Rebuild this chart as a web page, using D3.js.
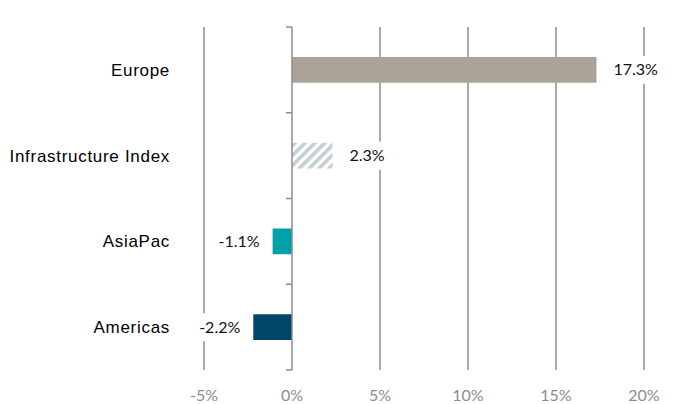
<!DOCTYPE html>
<html><head><meta charset="utf-8">
<script src="https://cdn.jsdelivr.net/npm/d3@7"></script>
<style>body{margin:0;background:#fff}</style>
</head><body>
<svg id="c" width="673" height="404"></svg>
<script>
const categories = ["Europe", "Infrastructure Index", "AsiaPac", "Americas"];
const values = [17.3, 2.3, -1.1, -2.2];
const labels = ["17.3%", "2.3%", "-1.1%", "-2.2%"];
const ticks = [-5, 0, 5, 10, 15, 20];
const tickLabels = ["-5%", "0%", "5%", "10%", "15%", "20%"];
const colors = ["#aca398", "url(#hatch)", "#00a0a7", "#004668"];

const svg = d3.select("#c");
const defs = svg.append("defs");
const pat = defs.append("pattern").attr("id", "hatch").attr("patternUnits", "userSpaceOnUse")
  .attr("width", 7).attr("height", 7).attr("patternTransform", "rotate(45)");
pat.append("rect").attr("width", 7).attr("height", 7).attr("fill", "#ffffff");
pat.append("rect").attr("width", 3.5).attr("height", 7).attr("fill", "#c3ced1");

const x = d3.scaleLinear().domain([-5, 20]).range([204, 644]);
const y = d3.scaleBand().domain(categories).range([27, 370]).paddingInner(0.7).paddingOuter(0.35);
const yb = d3.scaleLinear().domain([0, 4]).range([27, 370]);

// gridlines
svg.append("g").selectAll("line").data(ticks.filter(t => t !== 0)).join("line")
  .attr("x1", d => x(d)).attr("x2", d => x(d)).attr("y1", 27).attr("y2", 370)
  .attr("stroke", "#8c8c8c").attr("stroke-width", 1.5);

// bars
svg.append("g").selectAll("rect").data(values).join("rect")
  .attr("x", d => x(Math.min(0, d))).attr("width", d => Math.abs(x(d) - x(0)))
  .attr("y", (d, i) => y(categories[i])).attr("height", y.bandwidth())
  .attr("fill", (d, i) => colors[i]);

// zero axis
const ax = svg.append("g");
ax.append("line").attr("x1", x(0)).attr("x2", x(0)).attr("y1", 27).attr("y2", 370)
  .attr("stroke", "#8c8c8c").attr("stroke-width", 1.5);
ax.selectAll("line.t").data(d3.range(5)).join("line").attr("class", "t")
  .attr("x1", x(0) - 6).attr("x2", x(0)).attr("y1", d => yb(d)).attr("y2", d => yb(d))
  .attr("stroke", "#8c8c8c").attr("stroke-width", 1.5);

// category labels
svg.append("g").selectAll("text").data(categories).join("text")
  .attr("x", 170).attr("y", d => y(d) + y.bandwidth() / 2).attr("dy", "0.35em")
  .attr("text-anchor", "end").attr("font-family", "Liberation Sans, Arial, sans-serif")
  .attr("font-size", 17).attr("letter-spacing", 0.7).attr("fill", "#000").text(d => d);

// value labels with white background
const vl = svg.append("g").selectAll("g").data(values).join("g")
  .attr("transform", (d, i) => `translate(${d >= 0 ? x(d) + 17 : x(d) - 13},${y(categories[i]) + y.bandwidth() / 2})`);
vl.append("rect").attr("x", (d) => d >= 0 ? -2 : -50).attr("y", -14).attr("width", 52).attr("height", 28)
  .attr("fill", "#fff");
vl.append("text").attr("dy", "0.35em").attr("text-anchor", d => d >= 0 ? "start" : "end")
  .attr("font-family", "Lato, Open Sans, sans-serif").attr("font-size", 16).attr("fill", "#111")
  .text((d, i) => labels[i]);

// x tick labels
svg.append("g").selectAll("text").data(ticks).join("text")
  .attr("x", d => x(d)).attr("y", 395).attr("dy", "0.35em").attr("text-anchor", "middle")
  .attr("font-family", "Lato, Open Sans, sans-serif").attr("font-size", 16).attr("fill", "#8c8c8c")
  .text((d, i) => tickLabels[i]);
</script>
</body></html>
